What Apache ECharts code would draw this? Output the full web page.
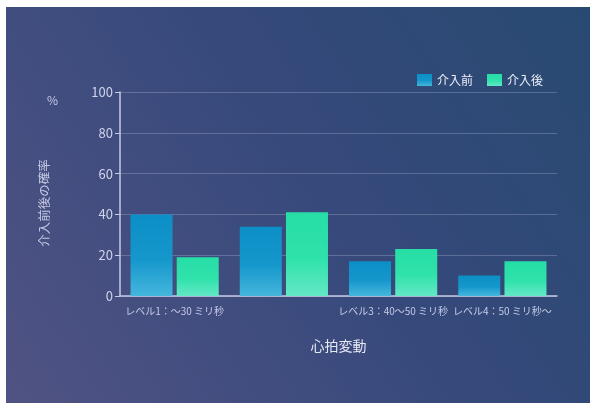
<!DOCTYPE html>
<html>
<head>
<meta charset="utf-8">
<script src="https://cdn.jsdelivr.net/npm/echarts@6/dist/echarts.min.js"></script>
<style>
html,body{margin:0;padding:0;background:#fff;width:590px;height:403px;overflow:hidden;}
#chart{position:absolute;left:6px;top:7px;width:584px;height:396px;}
</style>
</head>
<body>
<div id="chart"></div>
<script>
const categories = ['レベル1：〜30 ミリ秒', 'レベル2：30〜40 ミリ秒', 'レベル3：40〜50 ミリ秒', 'レベル4：50 ミリ秒〜'];
const seriesNames = ['介入前', '介入後'];
const beforeValues = [40, 34, 17, 10];
const afterValues = [19, 41, 23, 17];
const yTicks = [0, 20, 40, 60, 80, 100];
const yTitle = '介入前後の確率';
const yUnit = '%';
const xTitle = '心拍変動';

const font = '"Noto Sans CJK JP", "Noto Sans", sans-serif';
const chart = echarts.init(document.getElementById('chart'));
const shown = (i) => i !== 1;

chart.setOption({
  backgroundColor: {
    type: 'linear', x: 0, y: 1, x2: 1, y2: 0,
    colorStops: [{offset: 0, color: '#505384'}, {offset: 0.55, color: '#36497b'}, {offset: 1, color: '#284a71'}]
  },
  textStyle: {fontFamily: font},
  graphic: [
    {
      type: 'text', left: 41, top: 87,
      style: {text: yUnit, fill: '#c4c8e4', fontSize: 12, fontFamily: font}
    },
    {
      type: 'text', x: 38, y: 196, rotation: Math.PI / 2,
      style: {text: yTitle, fill: '#c4c8e4', fontSize: 12.5, fontFamily: font, align: 'center', verticalAlign: 'middle'}
    }
  ],
  legend: {
    top: 62, right: 42, itemWidth: 15, itemHeight: 12, itemGap: 14,
    icon: 'rect',
    textStyle: {color: '#eef0fa', fontSize: 12, fontFamily: font},
    data: seriesNames
  },
  grid: {left: 114, top: 85, right: 33, bottom: 107},
  xAxis: {
    type: 'category',
    data: categories,
    name: xTitle,
    nameLocation: 'middle',
    nameGap: 43,
    nameTextStyle: {color: '#e6e8f6', fontSize: 14, fontFamily: font},
    axisLine: {lineStyle: {color: '#c6cae6', width: 1.5}},
    axisTick: {alignWithLabel: true, interval: (i) => shown(i), length: 5, lineStyle: {color: '#c6cae6'}},
    axisLabel: {interval: (i) => shown(i), color: '#c6cae6', fontSize: 10, margin: 10, fontFamily: font}
  },
  yAxis: {
    type: 'value',
    min: 0, max: 100, interval: 20,
    axisLine: {show: true, lineStyle: {color: '#c6cae6', width: 1.5}},
    axisTick: {show: true, length: 5, lineStyle: {color: '#c6cae6'}},
    axisLabel: {color: '#d0d4ec', fontSize: 13, margin: 7, fontFamily: font,
      formatter: (v) => yTicks.includes(v) ? String(v) : ''},
    splitLine: {lineStyle: {color: 'rgba(200,205,235,0.28)', width: 1}}
  },
  series: [
    {
      name: seriesNames[0], type: 'bar', data: beforeValues,
      barWidth: 42, barGap: '10%',
      itemStyle: {color: {type: 'linear', x: 0, y: 0, x2: 0, y2: 1,
        colorStops: [{offset: 0, color: '#0c8fc6'}, {offset: 0.55, color: '#1597cc'}, {offset: 1, color: '#45b6dc'}]}}
    },
    {
      name: seriesNames[1], type: 'bar', data: afterValues,
      barWidth: 42,
      itemStyle: {color: {type: 'linear', x: 0, y: 0, x2: 0, y2: 1,
        colorStops: [{offset: 0, color: '#26dea6'}, {offset: 0.55, color: '#2fe2aa'}, {offset: 1, color: '#64e8c6'}]}}
    }
  ]
});
</script>
</body>
</html>
